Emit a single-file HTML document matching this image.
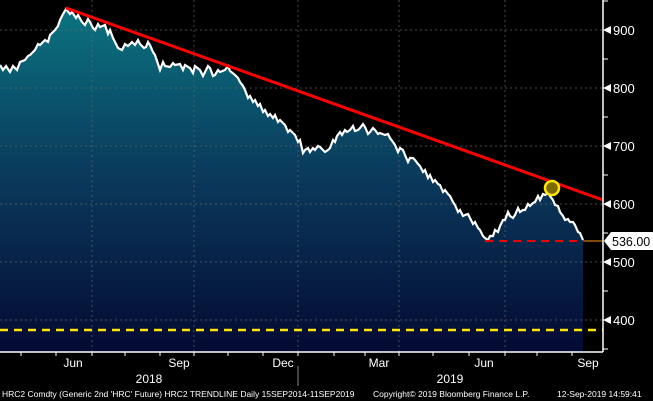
<!DOCTYPE html>
<html><head><meta charset="utf-8"><style>
html,body{margin:0;padding:0;background:#000;}
svg{display:block;font-family:"Liberation Sans",sans-serif;}
</style></head><body>
<svg width="653" height="401" viewBox="0 0 653 401">
<defs>
<linearGradient id="g" x1="0" y1="0" x2="0" y2="1">
<stop offset="0" stop-color="#0b7380"/>
<stop offset="0.45" stop-color="#0a3d5e"/>
<stop offset="1" stop-color="#040a33"/>
</linearGradient>
</defs>
<rect width="653" height="401" fill="#000"/>
<path id="a" d="M0,65 L3,70 6,66 10,72 13,66 17,70 20,62 25,60 28,56 30,55 35,50 38,44 40,45 45,40 48,42 50,35 55,30 58,26 60,20 63,14 66,9 70,14 72,12 76,18 78,15 82,22 85,25 88,19 90,22 93,28 95,30 98,24 100,27 105,25 108,34 110,30 113,38 116,44 118,48 122,50 125,44 128,46 132,42 135,45 138,40 140,44 144,48 146,47 148,42 150,45 153,52 155,55 158,64 160,70 163,62 165,66 170,67 173,63 175,65 180,64 183,70 185,65 190,68 193,73 195,66 200,70 203,76 205,72 208,66 210,68 213,76 215,75 218,70 220,72 225,70 228,66 230,71 235,75 238,78 240,82 243,86 245,90 248,98 250,96 253,102 255,100 258,106 260,104 263,112 265,110 268,116 270,114 273,118 275,115 278,122 280,120 285,125 288,132 290,130 295,135 298,142 300,140 303,153 305,150 308,148 310,152 313,148 315,150 318,146 320,147 325,152 328,150 330,148 333,140 335,142 337,136 340,132 342,135 345,130 347,132 350,130 353,126 355,131 358,130 360,128 363,124 365,127 368,134 370,132 373,128 375,130 378,134 380,133 385,135 388,134 390,138 393,142 395,145 398,152 400,148 403,150 405,155 408,162 410,158 413,158 415,160 418,164 420,166 423,172 425,170 428,178 430,175 433,182 435,180 438,184 440,185 443,192 445,190 448,194 450,196 453,202 455,205 458,212 460,210 463,216 465,215 468,214 470,218 473,224 475,222 478,228 480,230 483,236 485,238 488,240 490,236 493,236 495,230 498,232 500,226 503,220 505,220 508,212 510,216 513,218 515,215 518,208 520,212 523,210 525,210 528,204 530,206 533,203 535,202 538,196 540,200 543,194 545,195 548,193 550,196 553,200 555,205 558,206 560,212 563,216 565,220 568,219 570,222 573,222 575,225 578,232 580,233 583,240"/>
<path d="M0,65 L3,70 6,66 10,72 13,66 17,70 20,62 25,60 28,56 30,55 35,50 38,44 40,45 45,40 48,42 50,35 55,30 58,26 60,20 63,14 66,9 70,14 72,12 76,18 78,15 82,22 85,25 88,19 90,22 93,28 95,30 98,24 100,27 105,25 108,34 110,30 113,38 116,44 118,48 122,50 125,44 128,46 132,42 135,45 138,40 140,44 144,48 146,47 148,42 150,45 153,52 155,55 158,64 160,70 163,62 165,66 170,67 173,63 175,65 180,64 183,70 185,65 190,68 193,73 195,66 200,70 203,76 205,72 208,66 210,68 213,76 215,75 218,70 220,72 225,70 228,66 230,71 235,75 238,78 240,82 243,86 245,90 248,98 250,96 253,102 255,100 258,106 260,104 263,112 265,110 268,116 270,114 273,118 275,115 278,122 280,120 285,125 288,132 290,130 295,135 298,142 300,140 303,153 305,150 308,148 310,152 313,148 315,150 318,146 320,147 325,152 328,150 330,148 333,140 335,142 337,136 340,132 342,135 345,130 347,132 350,130 353,126 355,131 358,130 360,128 363,124 365,127 368,134 370,132 373,128 375,130 378,134 380,133 385,135 388,134 390,138 393,142 395,145 398,152 400,148 403,150 405,155 408,162 410,158 413,158 415,160 418,164 420,166 423,172 425,170 428,178 430,175 433,182 435,180 438,184 440,185 443,192 445,190 448,194 450,196 453,202 455,205 458,212 460,210 463,216 465,215 468,214 470,218 473,224 475,222 478,228 480,230 483,236 485,238 488,240 490,236 493,236 495,230 498,232 500,226 503,220 505,220 508,212 510,216 513,218 515,215 518,208 520,212 523,210 525,210 528,204 530,206 533,203 535,202 538,196 540,200 543,194 545,195 548,193 550,196 553,200 555,205 558,206 560,212 563,216 565,220 568,219 570,222 573,222 575,225 578,232 580,233 583,240 L583,352 L0,352 Z" fill="url(#g)"/>
<g stroke="#666" stroke-width="1" stroke-dasharray="2,3" opacity="0.7">
<line x1="0" y1="30" x2="603" y2="30"/><line x1="0" y1="88" x2="603" y2="88"/>
<line x1="0" y1="146" x2="603" y2="146"/><line x1="0" y1="204" x2="603" y2="204"/>
<line x1="0" y1="262" x2="603" y2="262"/><line x1="0" y1="320" x2="603" y2="320"/>
<line x1="92" y1="0" x2="92" y2="352"/><line x1="194" y1="0" x2="194" y2="352"/>
<line x1="298" y1="0" x2="298" y2="352"/><line x1="399" y1="0" x2="399" y2="352"/>
<line x1="505" y1="0" x2="505" y2="352"/>
</g>
<use href="#a" fill="none" stroke="#fff" stroke-width="2.2"/>
<line x1="66" y1="8" x2="603" y2="200" stroke="#f00" stroke-width="3"/>
<line x1="485" y1="241" x2="583" y2="241" stroke="#e00" stroke-width="2" stroke-dasharray="8,6"/>
<line x1="583" y1="241" x2="603" y2="241" stroke="#f90" stroke-width="1"/>
<line x1="0" y1="330" x2="603" y2="330" stroke="#ffe600" stroke-width="2.5" stroke-dasharray="8,6"/>
<circle cx="552" cy="188" r="7" fill="#7a6a00" stroke="#ffe600" stroke-width="2.5"/>
<line x1="603" y1="0" x2="603" y2="352" stroke="#fff" stroke-width="1.5"/>
<line x1="0" y1="352" x2="603" y2="352" stroke="#fff" stroke-width="1.5"/>
<g fill="#fff">
<g font-size="13">
<polygon points="603,30 611,26 611,34"/><text x="613" y="35">900</text>
<polygon points="603,88 611,84 611,92"/><text x="613" y="93">800</text>
<polygon points="603,146 611,142 611,150"/><text x="613" y="151">700</text>
<polygon points="603,204 611,200 611,208"/><text x="613" y="209">600</text>
<polygon points="603,262 611,258 611,266"/><text x="613" y="267">500</text>
<polygon points="603,320 611,316 611,324"/><text x="613" y="325">400</text>
</g>
<polygon points="604,241 611,232 653,232 653,250 611,250"/>
<text x="612" y="246" font-size="12.5" fill="#000">536.00</text>
<g stroke="#fff" stroke-width="1">
<line x1="603" y1="1" x2="608" y2="1"/><line x1="603" y1="59" x2="608" y2="59"/><line x1="603" y1="117" x2="608" y2="117"/><line x1="603" y1="175" x2="608" y2="175"/><line x1="603" y1="233" x2="608" y2="233"/><line x1="603" y1="291" x2="608" y2="291"/><line x1="603" y1="349" x2="608" y2="349"/>
<line x1="21" y1="352" x2="21" y2="356"/><line x1="56" y1="352" x2="56" y2="356"/><line x1="92" y1="352" x2="92" y2="356"/><line x1="125" y1="352" x2="125" y2="356"/><line x1="160" y1="352" x2="160" y2="356"/><line x1="194" y1="352" x2="194" y2="356"/><line x1="228" y1="352" x2="228" y2="356"/><line x1="263" y1="352" x2="263" y2="356"/><line x1="298" y1="352" x2="298" y2="356"/><line x1="334" y1="352" x2="334" y2="356"/><line x1="365" y1="352" x2="365" y2="356"/><line x1="399" y1="352" x2="399" y2="356"/><line x1="433" y1="352" x2="433" y2="356"/><line x1="469" y1="352" x2="469" y2="356"/><line x1="505" y1="352" x2="505" y2="356"/><line x1="537" y1="352" x2="537" y2="356"/><line x1="572" y1="352" x2="572" y2="356"/>
<line x1="298" y1="366" x2="298" y2="386" stroke="#888"/>
</g>
<g font-size="12" text-anchor="middle">
<text x="73" y="367">Jun</text><text x="179" y="367">Sep</text><text x="283" y="367">Dec</text>
<text x="379" y="367">Mar</text><text x="484" y="367">Jun</text><text x="588" y="367">Sep</text>
<text x="149" y="383">2018</text><text x="450" y="383">2019</text>
</g>
<g font-size="8.5">
<text x="2" y="397">HRC2 Comdty (Generic 2nd 'HRC' Future) HRC2 TRENDLINE  Daily 15SEP2014-11SEP2019</text>
<text x="373" y="397">Copyright© 2019 Bloomberg Finance L.P.</text>
<text x="557" y="397">12-Sep-2019 14:59:41</text>
</g>
</g>
</svg>
</body></html>
